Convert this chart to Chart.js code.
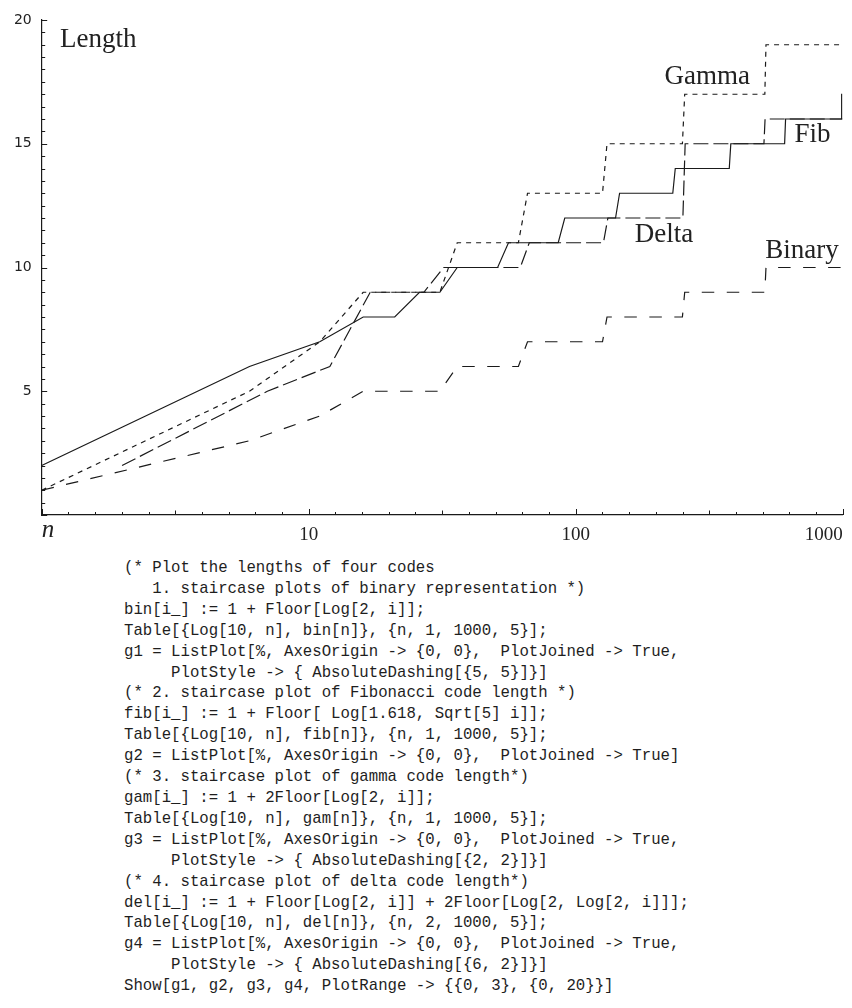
<!DOCTYPE html>
<html>
<head>
<meta charset="utf-8">
<title>Code lengths</title>
<script src="https://cdn.jsdelivr.net/npm/chart.js@4.4.1/dist/chart.umd.min.js"></script>
<style>
  html, body { margin: 0; padding: 0; background: #fff; }
  body { width: 852px; height: 1008px; position: relative; overflow: hidden; }
  #plotBox { position: absolute; left: 0; top: 0; width: 852px; height: 550px; }
  #source {
    position: absolute; left: 124px; top: 558px; margin: 0;
    font: 15.7px/20.9px "Liberation Mono", monospace;
    color: #1e1e1e; white-space: pre;
  }
</style>
</head>
<body>
<div id="plotBox"><canvas id="lengthChart"></canvas></div>
<pre id="source">(* Plot the lengths of four codes
   1. staircase plots of binary representation *)
bin[i_] := 1 + Floor[Log[2, i]];
Table[{Log[10, n], bin[n]}, {n, 1, 1000, 5}];
g1 = ListPlot[%, AxesOrigin -> {0, 0},  PlotJoined -> True,
     PlotStyle -> { AbsoluteDashing[{5, 5}]}]
(* 2. staircase plot of Fibonacci code length *)
fib[i_] := 1 + Floor[ Log[1.618, Sqrt[5] i]];
Table[{Log[10, n], fib[n]}, {n, 1, 1000, 5}];
g2 = ListPlot[%, AxesOrigin -> {0, 0},  PlotJoined -> True]
(* 3. staircase plot of gamma code length*)
gam[i_] := 1 + 2Floor[Log[2, i]];
Table[{Log[10, n], gam[n]}, {n, 1, 1000, 5}];
g3 = ListPlot[%, AxesOrigin -> {0, 0},  PlotJoined -> True,
     PlotStyle -> { AbsoluteDashing[{2, 2}]}]
(* 4. staircase plot of delta code length*)
del[i_] := 1 + Floor[Log[2, i]] + 2Floor[Log[2, Log[2, i]]];
Table[{Log[10, n], del[n]}, {n, 2, 1000, 5}];
g4 = ListPlot[%, AxesOrigin -> {0, 0},  PlotJoined -> True,
     PlotStyle -> { AbsoluteDashing[{6, 2}]}]
Show[g1, g2, g3, g4, PlotRange -> {{0, 3}, {0, 20}}]</pre>
<script>
// Sample points (n steps by 5) where each code length changes; flat runs in between
// need only their two end points since the curves are joined with straight lines.
const binaryN   = [1, 6, 11, 16, 31, 36, 61, 66, 126, 131, 251, 256, 511, 516, 996];
const binaryLen = [1, 3, 4, 5, 5, 6, 6, 7, 7, 8, 8, 9, 9, 10, 10];

const fibN   = [1, 6, 11, 16, 21, 26, 31, 36, 51, 56, 86, 91, 141, 146, 231, 236, 376, 381, 606, 611, 986, 991, 996];
const fibLen = [2, 6, 7, 8, 8, 9, 9, 10, 10, 11, 11, 12, 12, 13, 13, 14, 14, 15, 15, 16, 16, 17, 17];

const gammaN   = [1, 6, 11, 16, 31, 36, 61, 66, 126, 131, 251, 256, 511, 516, 996];
const gammaLen = [1, 5, 7, 9, 9, 11, 11, 13, 13, 15, 15, 17, 17, 19, 19];

const deltaN   = [2, 7, 12, 17, 27, 32, 62, 67, 127, 132, 252, 257, 507, 512, 997];
const deltaLen = [2, 5, 6, 9, 9, 10, 10, 11, 11, 12, 12, 15, 15, 16, 16];

const xTickLabels = ['n', '10', '100', '1000'];
const yTickLabels = ['5', '10', '15', '20'];

// text placed next to the curves, anchored in data units (centre of the word, baseline)
const curveLabels = [
  { text: 'Length', n: 1.63, len: 18.9 },
  { text: 'Gamma',  n: 311,  len: 17.4 },
  { text: 'Fib',    n: 771,  len: 15.07 },
  { text: 'Delta',  n: 214,  len: 11.03 },
  { text: 'Binary', n: 704,  len: 10.38 }
];

const ink = '#1a1a1a';
const serif = '"Liberation Serif", "Times New Roman", serif';

const toPoints = (ns, lens) => ns.map((n, i) => ({ x: n, y: lens[i] }));

function lineSet(label, ns, lens, dash) {
  return {
    label: label,
    data: toPoints(ns, lens),
    borderColor: ink,
    borderWidth: 1.2,
    borderDash: dash,
    borderCapStyle: 'butt',
    pointRadius: 0,
    tension: 0,
    fill: false
  };
}

// inward tick marks on both axes plus the curve names
const axisMarks = {
  id: 'axisMarks',
  afterDraw(chart) {
    const { ctx, scales: { x, y } } = chart;
    ctx.save();
    ctx.strokeStyle = ink;
    ctx.lineWidth = 1;
    ctx.beginPath();
    x.ticks.forEach((t, i) => {
      const px = Math.round(x.getPixelForValue(t.value)) + 0.5;
      const len = i % 10 === 0 ? 6 : (i % 5 === 0 ? 4.5 : 3);
      ctx.moveTo(px, y.bottom);
      ctx.lineTo(px, y.bottom - len);
    });
    y.ticks.forEach((t, i) => {
      const py = Math.round(y.getPixelForValue(t.value)) + 0.5;
      const len = i % 10 === 0 ? 5.5 : 3.5;
      ctx.moveTo(x.left, py);
      ctx.lineTo(x.left + len, py);
    });
    ctx.stroke();

    ctx.fillStyle = '#222';
    ctx.font = '27px ' + serif;
    ctx.textAlign = 'center';
    ctx.textBaseline = 'alphabetic';
    curveLabels.forEach(l => {
      ctx.fillText(l.text, x.getPixelForValue(l.n), y.getPixelForValue(l.len));
    });
    ctx.restore();
  }
};

// one tick every tenth of a decade, one every half unit of length
const xTickExp = Array.from({ length: 31 }, (_, k) => k / 10);
const yTickVals = Array.from({ length: 41 }, (_, k) => k / 2);

new Chart(document.getElementById('lengthChart').getContext('2d'), {
  type: 'line',
  data: {
    datasets: [
      lineSet('Binary', binaryN, binaryLen, [12.5, 12.5]),
      lineSet('Fib', fibN, fibLen, []),
      lineSet('Gamma', gammaN, gammaLen, [5, 5]),
      lineSet('Delta', deltaN, deltaLen, [15, 5])
    ]
  },
  options: {
    responsive: true,
    maintainAspectRatio: false,
    animation: false,
    layout: { padding: { top: 20, right: 9.3, left: 0, bottom: 0 } },
    plugins: {
      legend: { display: false },
      tooltip: { enabled: false }
    },
    scales: {
      x: {
        type: 'logarithmic',
        min: 1,
        max: 1000,
        grid: { display: false, drawTicks: false, tickLength: 0 },
        border: { display: true, color: ink, width: 1.2 },
        afterBuildTicks: scale => {
          scale.ticks = xTickExp.map(e => ({ value: Math.pow(10, e) }));
        },
        afterFit: scale => {
          scale.height = 35;
          scale.paddingLeft = 0;
          scale.paddingRight = 0;
        },
        ticks: {
          autoSkip: false,
          maxRotation: 0,
          align: 'inner',
          padding: 9,
          color: '#222',
          font: c => c.index === 0
            ? { family: serif, size: 25, style: 'italic', lineHeight: '13px' }
            : { family: serif, size: 19 },
          callback: (v, i) => (i % 10 === 0 ? xTickLabels[i / 10] : '')
        }
      },
      y: {
        type: 'linear',
        min: 0,
        max: 20,
        grid: { display: false, drawTicks: false, tickLength: 0 },
        border: { display: true, color: ink, width: 1.2 },
        afterBuildTicks: scale => {
          scale.ticks = yTickVals.map(v => ({ value: v }));
        },
        afterFit: scale => {
          scale.width = 41.7;
          scale.paddingTop = 0;
          scale.paddingBottom = 0;
        },
        ticks: {
          autoSkip: false,
          padding: 10,
          color: '#222',
          font: { family: '"DejaVu Sans", sans-serif', size: 14 },
          callback: (v, i) => (i > 0 && i % 10 === 0 ? yTickLabels[i / 10 - 1] : '')
        }
      }
    }
  },
  plugins: [axisMarks]
});
</script>
</body>
</html>
